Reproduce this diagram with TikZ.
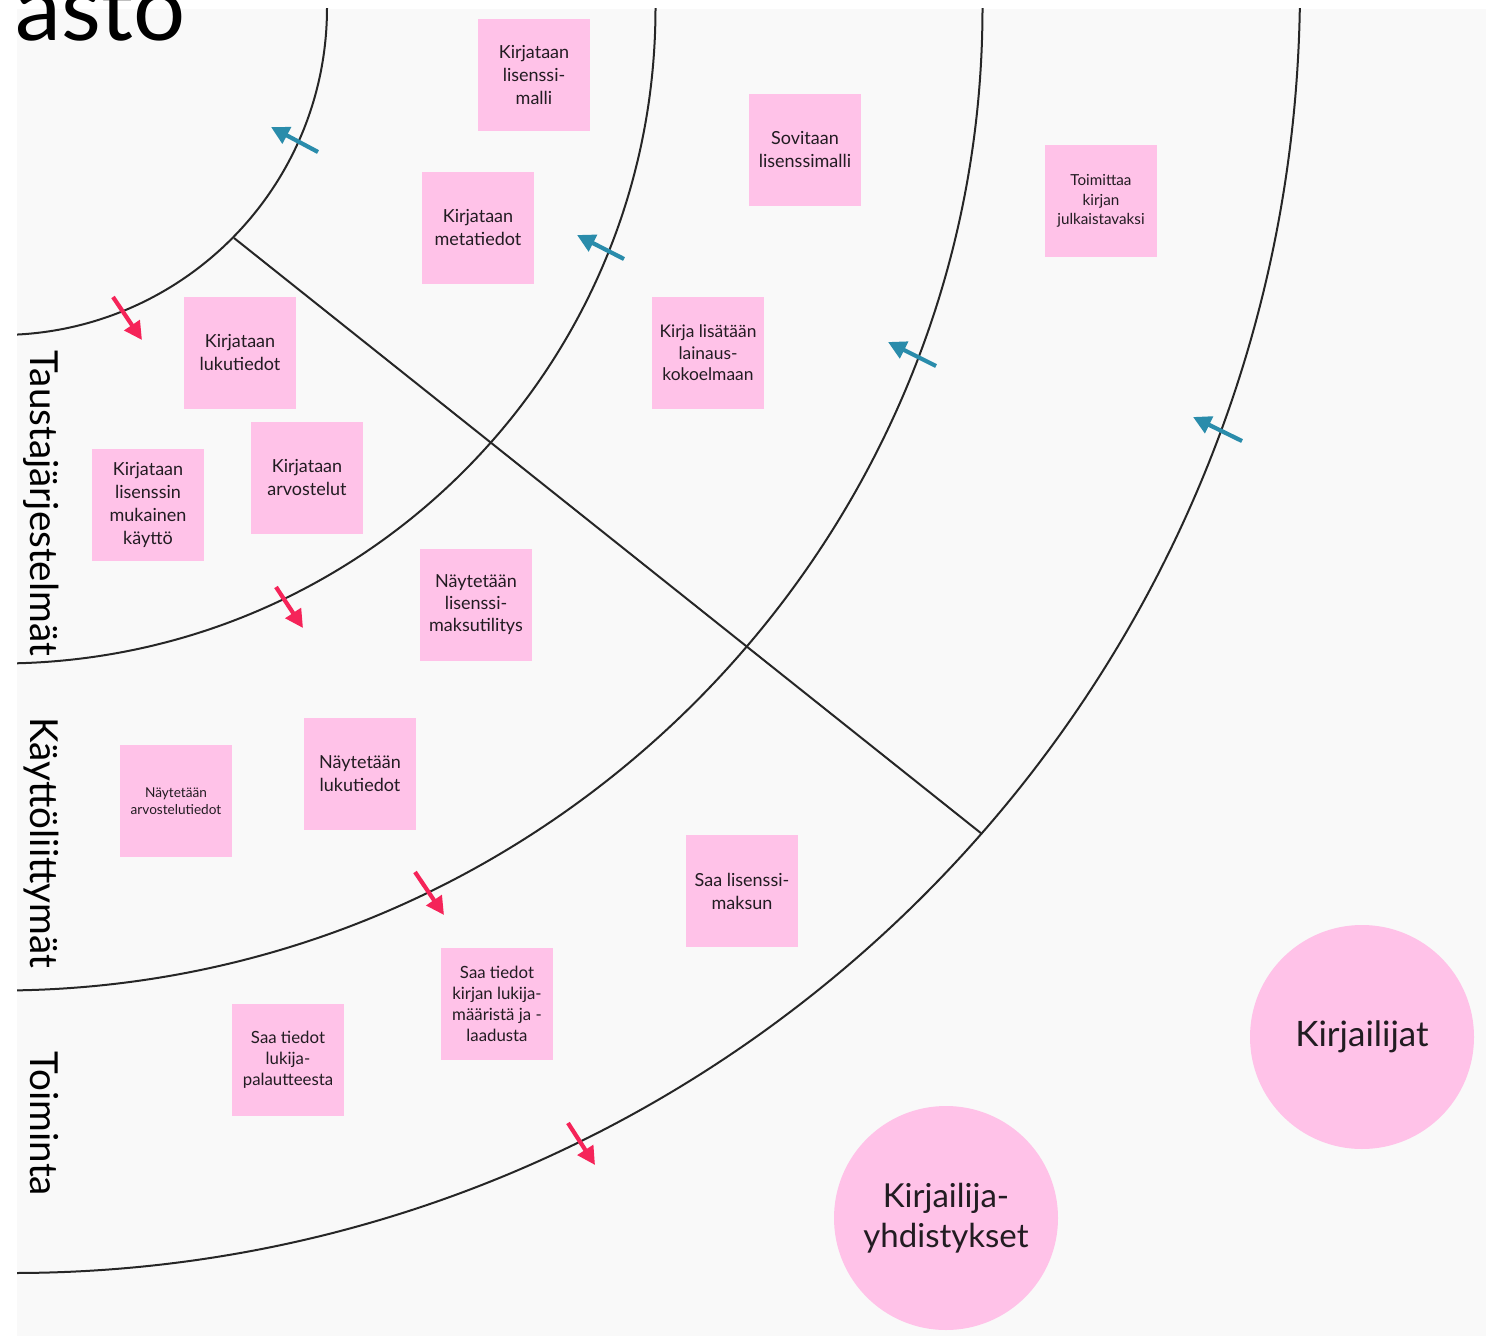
\documentclass[tikz,border=0pt]{standalone}
\usepackage{fontspec}
\setmainfont{Lato}
\usetikzlibrary{arrows.meta}
\definecolor{bg}{HTML}{F9F9F9}
\definecolor{notepink}{HTML}{FFC2E8}
\definecolor{arrblue}{HTML}{2A8CAB}
\definecolor{arrred}{HTML}{F52459}
\definecolor{ink}{HTML}{221C22}
\tikzset{
  note/.style={rectangle, fill=notepink, minimum width=56pt, minimum height=56pt,
    inner sep=1pt, align=center, text=ink, font=\fontsize{9}{11.5}\selectfont},
  notesmall/.style={note, font=\fontsize{8.4}{10.5}\selectfont},
  actor/.style={circle, fill=notepink, minimum size=112pt, inner sep=0pt,
    align=center, text=ink, font=\fontsize{16.5}{20}\selectfont},
  lane/.style={rotate=-90, anchor=base west, inner sep=0pt,
    font=\fontsize{19.3}{19.3}\selectfont, text=black},
  ring/.style={draw=black!85, line width=1pt},
  flowin/.style={draw=arrblue, line width=2.1pt, -{Triangle[length=9pt,width=9pt]}, arrblue},
  flowout/.style={draw=arrred, line width=2.1pt, -{Triangle[length=9pt,width=9pt]}, arrred},
}
\begin{document}
\begin{tikzpicture}[x=0.5pt,y=-0.5pt]
\useasboundingbox (0,0) rectangle (1488,1337);
\fill[white] (0,0) rectangle (1488,1337);
\fill[bg] (17,9) rectangle (1486,1336);

% rings and divider
\begin{scope}
  \clip (17,9) rectangle (1486,1336);
  \draw[ring] (0,8) circle[radius=163.5pt];
  \draw[ring] (0,8) circle[radius=327.75pt];
  \draw[ring] (0,8) circle[radius=491.25pt];
  \draw[ring] (13,-14) circle[radius=643.5pt];
  \coordinate (d1) at (234,238);
  \coordinate (d2) at (982,834);
  \draw[ring] (d1) -- (d2);
\end{scope}

% partial heading (cut off at the top edge, as in the source)
\node[anchor=base west, inner sep=0pt, font=\fontsize{46}{46}\selectfont, text=black] (title) at (15,41) {asto};

% lane labels
\node[lane] (lane1) at (30,350) {Taustajärjestelmät};
\node[lane] (lane2) at (30,717) {Käyttöliittymät};
\node[lane] (lane3) at (30,1051) {Toiminta};

% sticky notes
\node[note] (n1) at (534,75) {Kirjataan\\lisenssi-\\malli};
\node[note] (n2) at (805,150) {Sovitaan\\lisenssimalli};
\node[note, font=\fontsize{7.6}{9.75}\selectfont] (n3) at (1101,201) {Toimittaa\\kirjan\\julkaistavaksi};
\node[note] (n4) at (478,228) {Kirjataan\\metatiedot};
\node[note] (n5) at (240,353) {Kirjataan\\lukutiedot};
\node[notesmall, font=\fontsize{8.7}{10.75}\selectfont] (n6) at (708,353) {Kirja lisätään\\lainaus-\\kokoelmaan};
\node[note] (n7) at (307,478) {Kirjataan\\arvostelut};
\node[note] (n8) at (148,505) {Kirjataan\\lisenssin\\mukainen\\käyttö};
\node[note, font=\fontsize{9}{11}\selectfont] (n9) at (476,605) {Näytetään\\lisenssi-\\maksutilitys};
\node[note] (n10) at (360,774) {Näytetään\\lukutiedot};
\node[note, font=\fontsize{6.8}{8.5}\selectfont] (n11) at (176,801) {Näytetään\\arvostelutiedot};
\node[note] (n12) at (742,891) {Saa lisenssi-\\maksun};
\node[notesmall] (n13) at (497,1004) {Saa tiedot\\kirjan lukija-\\määristä ja -\\laadusta};
\node[notesmall] (n14) at (288,1060) {Saa tiedot\\lukija-\\palautteesta};

% actors
\node[actor, font=\fontsize{17.5}{20}\selectfont] (a1) at (1362,1037) {Kirjailijat};
\node[actor] (a2) at (946,1218) {Kirjailija-\\yhdistykset};

% inward (blue) arrows
\coordinate (b1t) at (318,152); \coordinate (b1h) at (271,127);
\coordinate (b2t) at (624,259); \coordinate (b2h) at (577,235);
\coordinate (b3t) at (936,366); \coordinate (b3h) at (888,342);
\coordinate (b4t) at (1242,441); \coordinate (b4h) at (1193,417);
\draw[flowin] (b1t) -- (b1h);
\draw[flowin] (b2t) -- (b2h);
\draw[flowin] (b3t) -- (b3h);
\draw[flowin] (b4t) -- (b4h);

% outward (red) arrows
\coordinate (r1t) at (113,297); \coordinate (r1h) at (142,340);
\coordinate (r2t) at (276,587); \coordinate (r2h) at (303,628);
\coordinate (r3t) at (415,872); \coordinate (r3h) at (444,915);
\coordinate (r4t) at (568,1123); \coordinate (r4h) at (595,1165);
\draw[flowout] (r1t) -- (r1h);
\draw[flowout] (r2t) -- (r2h);
\draw[flowout] (r3t) -- (r3h);
\draw[flowout] (r4t) -- (r4h);
\end{tikzpicture}
\end{document}
